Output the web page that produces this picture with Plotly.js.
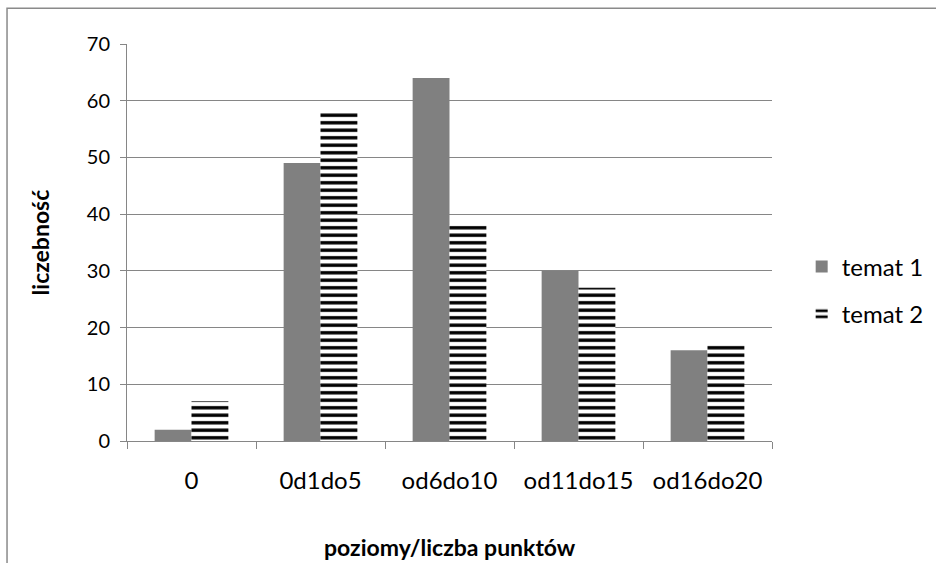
<!DOCTYPE html>
<html>
<head>
<meta charset="utf-8">
<script src="https://cdn.plot.ly/plotly-3.0.1.min.js"></script>
<style>html,body{margin:0;padding:0;background:#fff;}#chart{width:936px;height:563px;}</style>
</head>
<body>
<div id="chart"></div>
<script>
const categories = ["0", "0d1do5", "od6do10", "od11do15", "od16do20"];
const temat1 = [2, 49, 64, 30, 16];
const temat2 = [7, 58, 38, 27, 17];
const seriesNames = ["temat 1", "temat 2"];
const yTicks = [0, 10, 20, 30, 40, 50, 60, 70];

const FONT = "Lato, 'Open Sans', sans-serif";

const traces = [
  {
    type: "bar", name: seriesNames[0], x: categories, y: temat1,
    legendgroup: "a",
    marker: {color: "#808080", line: {width: 0}}
  },
  {
    type: "bar", name: seriesNames[1], x: categories, y: temat2,
    legendgroup: "b",
    marker: {color: "#ffffff", line: {width: 0},
      pattern: {shape: "-", fgcolor: "#000000", bgcolor: "#ffffff", size: 7.5, solidity: 0.45, fillmode: "replace"}}
  }
];

const layout = {
  width: 936, height: 563,
  margin: {l: 127, r: 164, t: 44, b: 122, autoexpand: false},
  paper_bgcolor: "#ffffff", plot_bgcolor: "#ffffff",
  font: {family: FONT, size: 18, color: "#000000"},
  barmode: "group", bargap: 0.4286, bargroupgap: 0,
  showlegend: true,
  legend: {x: 1.046, y: 0.495, xanchor: "left", yanchor: "top", tracegroupgap: 13,
    font: {family: FONT, size: 24, color: "#000"}, bgcolor: "rgba(0,0,0,0)"},
  xaxis: {
    type: "category", tickson: "boundaries", ticks: "outside", ticklen: 7, tickcolor: "#868686",
    showline: true, linecolor: "#868686", linewidth: 1, showgrid: false, automargin: false,
    ticklabelstandoff: 18, tickfont: {family: FONT, size: 24, color: "#000"}
  },
  yaxis: {
    range: [0, 70], tickvals: yTicks, ticks: "outside", ticklen: 6, tickcolor: "#868686",
    showline: true, linecolor: "#868686", linewidth: 1, automargin: false,
    showgrid: true, gridcolor: "#868686", gridwidth: 1, zeroline: false,
    ticklabelstandoff: 6, tickfont: {family: FONT, size: 20, color: "#000"}
  },
  annotations: [
    {text: "<b>liczebność</b>", xref: "paper", yref: "paper", x: -0.135, y: 0.5, textangle: -90,
     showarrow: false, xanchor: "center", yanchor: "middle", font: {family: FONT, size: 23, color: "#000"}},
    {text: "<b>poziomy/liczba punktów</b>", xref: "paper", yref: "paper", x: 0.5, y: -0.266,
     showarrow: false, xanchor: "center", yanchor: "middle", font: {family: FONT, size: 23, color: "#000"}}
  ],
  shapes: [
    {type: "rect", xref: "paper", yref: "paper", x0: -0.186, x1: 1.30, y0: -0.35, y1: 1.09,
     line: {color: "#8a8a8a", width: 1.5}, fillcolor: "rgba(0,0,0,0)", layer: "below"}
  ]
};

Plotly.newPlot("chart", traces, layout, {displayModeBar: false, staticPlot: true});
</script>
</body>
</html>
